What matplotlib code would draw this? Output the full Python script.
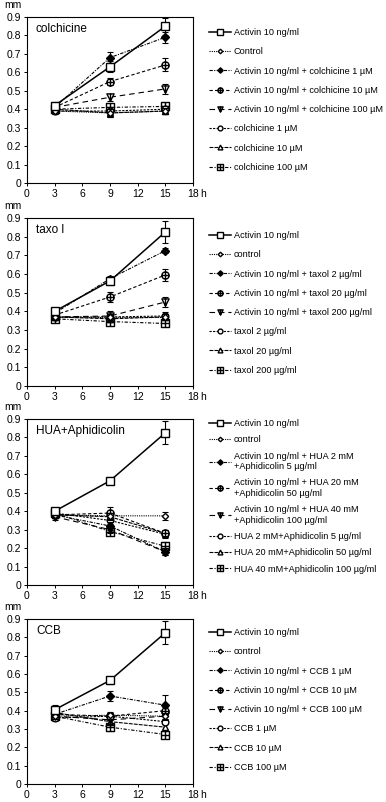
import numpy as np
import matplotlib.pyplot as plt
from matplotlib.path import Path

plt.rcParams['font.family'] = ['Liberation Sans', 'DejaVu Sans']

hours = [3, 9, 15]

# panel 1: colchicine
colch_labels = ["Activin 10 ng/ml", "Control",
                "Activin 10 ng/ml + colchicine 1 µM",
                "Activin 10 ng/ml + colchicine 10 µM",
                "Activin 10 ng/ml + colchicine 100 µM",
                "colchicine 1 µM", "colchicine 10 µM", "colchicine 100 µM"]
colch_means = [[0.42, 0.63, 0.85], [0.39, 0.38, 0.39], [0.41, 0.68, 0.79],
               [0.41, 0.55, 0.64], [0.41, 0.465, 0.51], [0.39, 0.39, 0.40],
               [0.40, 0.38, 0.39], [0.40, 0.41, 0.415]]
colch_err = [[0.02, 0.03, 0.045], [0.015, 0.02, 0.015], [0.02, 0.03, 0.03],
             [0.02, 0.02, 0.035], [0.02, 0.02, 0.025], [0.015, 0.02, 0.02],
             [0.015, 0.02, 0.015], [0.015, 0.02, 0.015]]

# panel 2: taxol
taxol_labels = ["Activin 10 ng/ml", "control",
                "Activin 10 ng/ml + taxol 2 µg/ml",
                "Activin 10 ng/ml + taxol 20 µg/ml",
                "Activin 10 ng/ml + taxol 200 µg/ml",
                "taxol 2 µg/ml", "taxol 20 µg/ml", "taxol 200 µg/ml"]
taxol_means = [[0.40, 0.563, 0.825], [0.37, 0.37, 0.37], [0.39, 0.575, 0.725],
               [0.38, 0.477, 0.595], [0.37, 0.375, 0.45], [0.37, 0.37, 0.375],
               [0.37, 0.36, 0.37], [0.36, 0.345, 0.335]]
taxol_err = [[0.02, 0.02, 0.06], [0.015, 0.015, 0.015], [0.015, 0.015, 0.015],
             [0.015, 0.025, 0.03], [0.015, 0.025, 0.025], [0.015, 0.015, 0.02],
             [0.015, 0.015, 0.015], [0.015, 0.015, 0.015]]

# panel 3: HUA + aphidicolin
hua_labels = ["Activin 10 ng/ml", "control",
              "Activin 10 ng/ml + HUA 2 mM\n+Aphidicolin 5 µg/ml",
              "Activin 10 ng/ml + HUA 20 mM\n+Aphidicolin 50 µg/ml",
              "Activin 10 ng/ml + HUA 40 mM\n+Aphidicolin 100 µg/ml",
              "HUA 2 mM+Aphidicolin 5 µg/ml",
              "HUA 20 mM+Aphidicolin 50 µg/ml",
              "HUA 40 mM+Aphidicolin 100 µg/ml"]
hua_means = [[0.40, 0.565, 0.825], [0.38, 0.375, 0.375], [0.38, 0.32, 0.18],
             [0.38, 0.39, 0.28], [0.37, 0.30, 0.18], [0.39, 0.35, 0.275],
             [0.38, 0.37, 0.28], [0.39, 0.29, 0.21]]
hua_err = [[0.02, 0.02, 0.063], [0.015, 0.015, 0.02], [0.015, 0.02, 0.02],
           [0.015, 0.035, 0.02], [0.015, 0.02, 0.02], [0.015, 0.02, 0.02],
           [0.015, 0.02, 0.02], [0.015, 0.02, 0.025]]

# panel 4: CCB
ccb_labels = ["Activin 10 ng/ml", "control",
              "Activin 10 ng/ml + CCB 1 µM",
              "Activin 10 ng/ml + CCB 10 µM",
              "Activin 10 ng/ml + CCB 100 µM",
              "CCB 1 µM", "CCB 10 µM", "CCB 100 µM"]
ccb_means = [[0.405, 0.565, 0.825], [0.37, 0.375, 0.37], [0.38, 0.48, 0.43],
             [0.38, 0.37, 0.40], [0.37, 0.35, 0.37], [0.36, 0.37, 0.34],
             [0.39, 0.34, 0.31], [0.37, 0.31, 0.27]]
ccb_err = [[0.025, 0.02, 0.063], [0.015, 0.02, 0.015], [0.015, 0.025, 0.055],
           [0.015, 0.02, 0.02], [0.015, 0.02, 0.02], [0.015, 0.02, 0.015],
           [0.015, 0.02, 0.02], [0.015, 0.02, 0.015]]

panel_titles = ["colchicine", "taxo l", "HUA+Aphidicolin", "CCB"]


# custom marker shapes
def _seg(p0, p1):
    return Path([p0, p1], [Path.MOVETO, Path.LINETO])

hline = _seg([-1, 0], [1, 0])
vline = _seg([0, -1], [0, 1])
square = Path([[-1, -1], [1, -1], [1, 1], [-1, 1], [-1, -1]],
              [Path.MOVETO, Path.LINETO, Path.LINETO, Path.LINETO, Path.CLOSEPOLY])
tri_down = Path([[-1, 1], [1, 1], [0, -1], [-1, 1]],
                [Path.MOVETO, Path.LINETO, Path.LINETO, Path.CLOSEPOLY])
circle_plus = Path.make_compound_path(Path.unit_circle(), hline, vline)
square_plus = Path.make_compound_path(square, hline, vline)
tri_stem = Path.make_compound_path(tri_down, _seg([0, 1], [0, -1]))

# one style per series position (same in every panel)
styles = [
    dict(ls='-', marker='s', ms=5.5, mfc='white', lw=1.1),
    dict(ls=(0, (1, 1)), marker='D', ms=3.2, mfc='white', lw=0.8),
    dict(ls=(0, (3, 1.2, 1, 1.2)), marker='D', ms=3.8, mfc='black', lw=0.8),
    dict(ls=(0, (3, 2)), marker=circle_plus, ms=5.2, mfc='white', lw=0.8),
    dict(ls=(0, (5, 3.5)), marker=tri_stem, ms=5.2, mfc='white', lw=0.8),
    dict(ls=(0, (2, 1.2)), marker='o', ms=4.8, mfc='white', lw=0.8),
    dict(ls=(0, (3.5, 1)), marker='^', ms=4.8, mfc='white', lw=0.8),
    dict(ls=(0, (3, 1.5, 1, 1.5)), marker=square_plus, ms=5.2, mfc='white', lw=0.8),
]

panels = [
    (colch_labels, colch_means, colch_err),
    (taxol_labels, taxol_means, taxol_err),
    (hua_labels, hua_means, hua_err),
    (ccb_labels, ccb_means, ccb_err),
]

W, H = 386, 802
fig = plt.figure(figsize=(W / 100, H / 100), dpi=100)

# axes boxes in pixels: (top, bottom)
boxes = [(17, 183), (218, 386), (419, 585), (619, 784)]
legend_tops = [28, 231, 419, 628]
legend_spacing = [1.12, 1.12, 0.8, 1.12]
ax_left, ax_right = 27, 193

for i, (labels, means, errs) in enumerate(panels):
    top, bot = boxes[i]
    ax = fig.add_axes([ax_left / W, 1 - bot / H, (ax_right - ax_left) / W, (bot - top) / H])
    handles = []
    for j in range(len(labels)):
        st = dict(styles[j])
        ls = st.pop('ls')
        cont = ax.errorbar(hours, means[j], yerr=errs[j], color='black', mec='black',
                           linestyle=ls, capsize=2.2, elinewidth=0.8, capthick=0.8,
                           zorder=10 - j if j else 12, **st)
        handles.append(cont[0])

    ax.set_xlim(0, 18)
    ax.set_ylim(0, 0.9)
    ax.set_xticks([0, 3, 6, 9, 12, 15, 18])
    ax.set_xticklabels(['0', '3', '6', '9', '12', '15', '18'])
    ax.set_yticks(np.arange(0, 0.91, 0.1))
    ax.set_yticklabels(['0'] + ['%.1f' % v for v in np.arange(0.1, 0.91, 0.1)])
    ax.tick_params(direction='out', length=2.5, width=0.7, labelsize=7.5, pad=1.5)
    for sp in ax.spines.values():
        sp.set_linewidth(0.8)

    ax.annotate('h', xy=(18, 0), xycoords=('data', 'axes fraction'),
                xytext=(5.5, -4.3), textcoords='offset points',
                ha='left', va='top', fontsize=7.5)
    ax.text(-0.135, 1.04, 'mm', transform=ax.transAxes, ha='left', va='bottom',
            fontsize=7.5)
    ax.text(0.054, 0.93, panel_titles[i], transform=ax.transAxes, ha='left',
            va='center', fontsize=8.5)

    fig.legend(handles, labels, loc='upper left',
               bbox_to_anchor=(209 / W, 1 - legend_tops[i] / H),
               bbox_transform=fig.transFigure, frameon=False, fontsize=6.6,
               handlelength=2.4, handletextpad=0.3, labelspacing=legend_spacing[i],
               markerscale=0.72, borderpad=0, borderaxespad=0)

fig.savefig('out.png', dpi=100, facecolor='white')
